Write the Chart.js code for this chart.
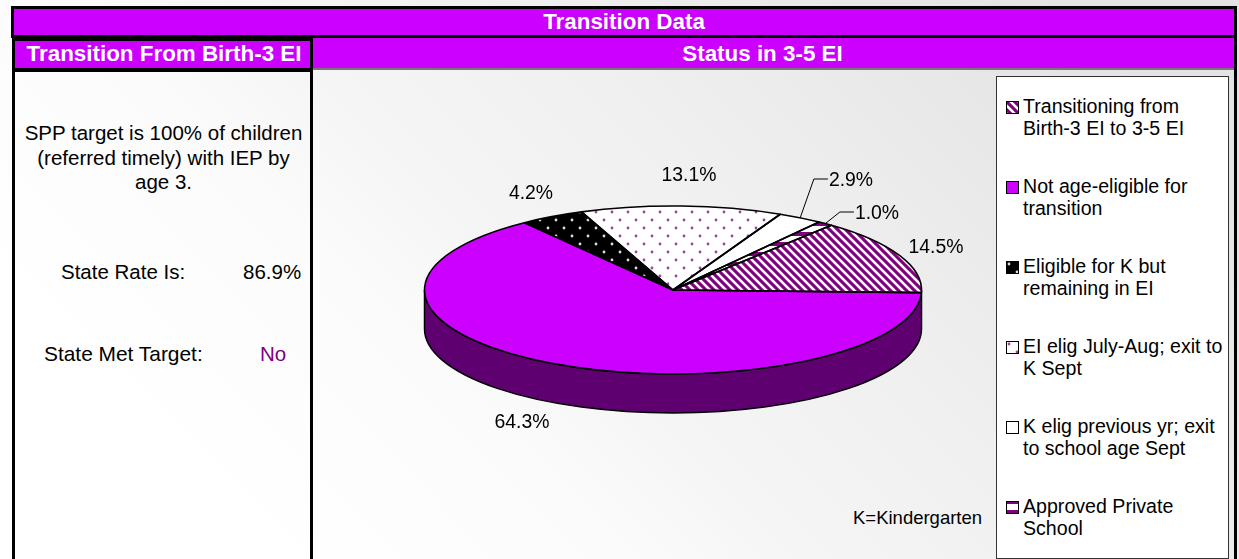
<!DOCTYPE html>
<html>
<head>
<meta charset="utf-8">
<title>Transition Data</title>
<script src="https://cdn.jsdelivr.net/npm/chart.js@4"></script>
<style>
  html, body { margin: 0; padding: 0; }
  body {
    width: 1239px; height: 559px; overflow: hidden; position: relative;
    font-family: "Liberation Sans", Arial, sans-serif; color: #000;
    background: linear-gradient(225deg, #e3e3e3 10%, #f0f0f0 40%, #f5f5f5 55%, #fbfbfb 65%, #ffffff 85%);
  }
  .abs { position: absolute; white-space: nowrap; font-size: 20.5px; line-height: 22px; }
  .blk { position: absolute; background: #000; }
  .hdr { position: absolute; background: #cc00ff; color: #fff; font-weight: bold; font-size: 22.4px; text-align: center; }
  #pie { position: absolute; left: 0; top: 0; }
  #legendBox { position: absolute; left: 996px; top: 76px; width: 231px; height: 481px; background: #fff; border: 1px solid #333; }
  .item { position: absolute; left: 9px; }
  .swatch { position: absolute; left: 0; top: 6px; width: 11px; height: 11px; border: 1px solid #000; background-position: -2px -2px; }
  .txt { position: absolute; left: 17px; top: 0; font-size: 19.6px; line-height: 22px; white-space: nowrap; }
</style>
</head>
<body>
  <div class="blk" style="left:11px;top:6px;width:1226px;height:32px"></div>
  <div class="hdr" style="left:14px;top:9px;width:1220px;height:26px;line-height:25px">Transition Data</div>
  <div class="blk" style="left:12px;top:38px;width:301px;height:34px"></div>
  <div class="hdr" style="left:15px;top:41px;width:295px;height:27px;line-height:25px;text-indent:3px">Transition From Birth-3 EI</div>
  <div class="hdr" style="left:313px;top:38px;width:921px;height:30px;line-height:31px"><span style="position:relative;left:-11px">Status in 3-5 EI</span></div>
  <div class="blk" style="left:313px;top:68px;width:924px;height:2px;background:#777"></div>
  <div class="blk" style="left:12px;top:72px;width:3px;height:487px"></div>
  <div class="blk" style="left:310px;top:72px;width:3px;height:487px"></div>
  <div class="blk" style="left:1234px;top:38px;width:3px;height:521px"></div>

  <div class="abs" style="left:16px;width:295px;top:121px;text-align:center;white-space:normal;line-height:24.5px">SPP target is 100% of children<br>(referred timely) with IEP by<br>age 3.</div>
  <div class="abs" style="left:61px;top:261px">State Rate Is:</div>
  <div class="abs" style="left:243px;top:261px">86.9%</div>
  <div class="abs" style="left:44px;top:343px;font-size:20.9px">State Met Target:</div>
  <div class="abs" style="left:260px;top:343px;color:#800080">No</div>
  <div class="abs" style="left:853px;top:507px;font-size:18.5px">K=Kindergarten</div>

  <div id="legendBox"></div>
  <canvas id="pie" width="1239" height="559"></canvas>

<script>
// values, legend order
const categories = [
  ['Transitioning from', 'Birth-3 EI to 3-5 EI'],
  ['Not age-eligible for', 'transition'],
  ['Eligible for K but', 'remaining in EI'],
  ['EI elig July-Aug; exit to', 'K Sept'],
  ['K elig previous yr; exit', 'to school age Sept'],
  ['Approved Private', 'School']
];
const values = [14.5, 64.3, 4.2, 13.1, 2.9, 1.0];
const valueLabels = ['14.5%', '64.3%', '4.2%', '13.1%', '2.9%', '1.0%'];

// where the labels go (centre of the text), and which ones get a leader line
const labelPos = [[936, 248], [522, 423], [531, 194], [689, 176], [851, 181], [877, 214]];
const hasLeader = [false, false, false, false, true, true];

// fake 3D look
const squash = 0.338;
const depth = 39;
const sideColor = '#5f0070';
const purple = '#800080';

function tile(w, h, draw) {
  const c = document.createElement('canvas');
  c.width = w; c.height = h;
  draw(c.getContext('2d'));
  return c;
}

function dots(g, bg, fg) {
  g.fillStyle = bg; g.fillRect(0, 0, 16, 16);
  g.fillStyle = fg;
  [[4, 4], [12, 12]].forEach(o => {
    g.beginPath(); g.arc(o[0], o[1], 1.4, 0, Math.PI * 2); g.fill();
  });
}

const tiles = [
  tile(8, 8, g => {
    g.fillStyle = '#fff'; g.fillRect(0, 0, 8, 8);
    g.strokeStyle = purple; g.lineWidth = 3.1;
    [-8, 0, 8].forEach(o => {
      g.beginPath(); g.moveTo(o - 1, -1); g.lineTo(o + 9, 9); g.stroke();
    });
  }),
  null,
  tile(16, 16, g => dots(g, '#000', '#ddd')),
  tile(16, 16, g => dots(g, '#fff', '#a040a0')),
  null,
  tile(10, 10, g => {
    g.fillStyle = '#fff'; g.fillRect(0, 0, 10, 10);
    g.fillStyle = purple; g.fillRect(0, 0, 10, 4);
  })
];
const flatColors = ['', '#cc00ff', '', '', '#ffffff', ''];

const ctx = document.getElementById('pie').getContext('2d');

// patterns have to be un-squashed, they get painted inside the squashed transform
const fills = tiles.map((t, i) => {
  if (!t) return flatColors[i];
  const p = ctx.createPattern(t, 'repeat');
  p.setTransform(new DOMMatrix().scale(1, 1 / squash));
  return p;
});

// html legend, swatches use the same tiles
const legendBox = document.getElementById('legendBox');
categories.forEach((lines, i) => {
  const item = document.createElement('div');
  item.className = 'item';
  item.style.top = (18 + i * 80) + 'px';
  const sw = document.createElement('div');
  sw.className = 'swatch';
  if (tiles[i]) sw.style.backgroundImage = 'url(' + tiles[i].toDataURL() + ')';
  else sw.style.backgroundColor = flatColors[i];
  const t = document.createElement('div');
  t.className = 'txt';
  t.innerHTML = lines.join('<br>');
  item.appendChild(sw);
  item.appendChild(t);
  legendBox.appendChild(item);
});

const pie3d = {
  id: 'pie3d',
  beforeDatasetsDraw(chart) {
    const c = chart.ctx;
    const a = chart.getDatasetMeta(0).data[0];
    const cx = a.x, cy = a.y, r = a.outerRadius;
    // side wall, only the front half can be seen
    c.save();
    c.beginPath();
    c.ellipse(cx, cy + depth, r, r * squash, 0, 0, Math.PI);
    c.ellipse(cx, cy, r, r * squash, 0, Math.PI, 0, true);
    c.closePath();
    c.fillStyle = sideColor;
    c.fill();
    c.strokeStyle = '#000';
    c.lineWidth = 1.5;
    c.stroke();
    c.restore();
    c.save();
    c.translate(cx, cy);
    c.scale(1, squash);
    c.translate(-cx, -cy);
  },
  afterDatasetsDraw(chart) {
    const c = chart.ctx;
    c.restore();
    const arcs = chart.getDatasetMeta(0).data;
    const cx = arcs[0].x, cy = arcs[0].y, r = arcs[0].outerRadius;
    c.save();
    c.strokeStyle = '#000';
    c.lineWidth = 1.6;
    c.lineJoin = 'round';
    arcs.forEach(a => {
      c.beginPath();
      c.moveTo(cx, cy);
      c.ellipse(cx, cy, r, r * squash, 0, a.startAngle, a.endAngle);
      c.closePath();
      c.stroke();
    });
    // value labels
    c.fillStyle = '#000';
    c.font = '19.4px "Liberation Sans", Arial, sans-serif';
    c.textAlign = 'center';
    c.textBaseline = 'middle';
    valueLabels.forEach((txt, i) => {
      const p = labelPos[i];
      c.fillText(txt, p[0], p[1]);
      if (hasLeader[i]) {
        const mid = (arcs[i].startAngle + arcs[i].endAngle) / 2;
        const w = c.measureText(txt).width;
        c.lineWidth = 1;
        c.beginPath();
        c.moveTo(cx + r * Math.cos(mid), cy + r * squash * Math.sin(mid));
        c.lineTo(p[0] - w / 2 - 15, p[1] - 2);
        c.lineTo(p[0] - w / 2 - 1, p[1] - 2);
        c.stroke();
      }
    });
    c.restore();
  }
};

new Chart(ctx, {
  type: 'pie',
  data: {
    labels: categories.map(l => l.join(' ')),
    datasets: [{ data: values, backgroundColor: fills, borderWidth: 0 }]
  },
  options: {
    responsive: false,
    animation: false,
    rotation: 39.6,
    layout: { padding: { left: 424.5, right: 317.5, top: 41.5, bottom: 20.5 } },
    plugins: { legend: { display: false }, tooltip: { enabled: false } }
  },
  plugins: [pie3d]
});
</script>
</body>
</html>
